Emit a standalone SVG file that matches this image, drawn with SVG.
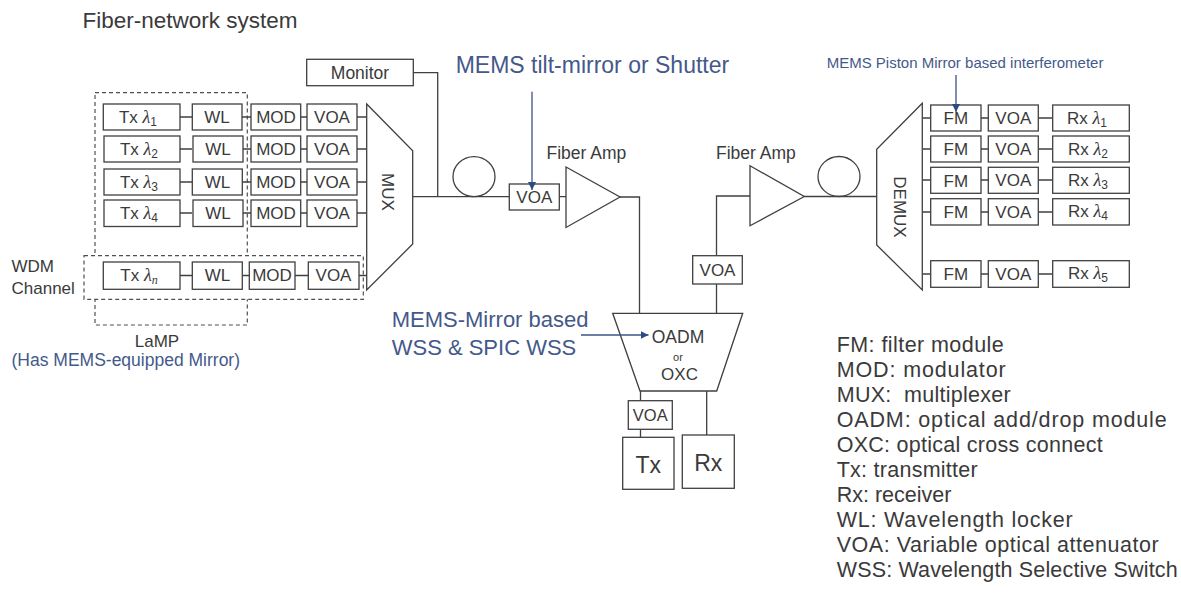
<svg xmlns="http://www.w3.org/2000/svg" width="1181" height="607" viewBox="0 0 1181 607">
<style>
.bx{fill:#fff;stroke:#404040;stroke-width:1.3}
.ln{fill:none;stroke:#404040;stroke-width:1.3}
.dash{fill:none;stroke:#505050;stroke-width:1.2;stroke-dasharray:4 3}
.t{font-family:"Liberation Sans",Arial,sans-serif;fill:#3a3a3a}
.c{text-anchor:middle}
.b17{font-size:17px}
.blue{fill:#44598a}
.arr{fill:none;stroke:#3b5488;stroke-width:1.3}
.g{font-family:"Liberation Serif",serif;font-style:italic;font-size:18px}
.sub{font-size:12px}
</style>
<defs>
<marker id="ah" markerUnits="userSpaceOnUse" markerWidth="9" markerHeight="8" refX="8" refY="4" orient="auto">
<path d="M0,0 L8,4 L0,8 z" fill="#2f4a7e"/>
</marker>
</defs>
<rect width="1181" height="607" fill="#fff"/>

<text class="t" x="82.5" y="28" font-size="22.5">Fiber-network system</text>

<g id="lamp-group">
<rect class="dash" x="95" y="92.7" width="152.3" height="232.3"/>
<text class="t c b17" x="157" y="347">LaMP</text>
<text class="t blue" x="11.5" y="366" font-size="17.5">(Has MEMS-equipped Mirror)</text>
</g>

<g id="wdm-channel">
<rect x="84" y="255.7" width="279.3" height="43.6" fill="#fff" stroke="#505050" stroke-width="1.2" stroke-dasharray="4 3"/>
<text class="t b17" x="11.5" y="272">WDM</text>
<text class="t b17" x="11.5" y="293.5">Channel</text>
</g>

<g id="connectors">
<path class="ln" d="M180,117H192M242,117H251M301,117H307M357,117H367
M180,149H192M242,149H251M301,149H307M357,149H367
M180,182H192M242,182H251M301,182H307M357,182H367
M180,213H192M242,213H251M301,213H307M357,213H367
M180,275.5H192M242,275.5H249M295,275.5H308M359,275.5H367"/>
<path class="ln" d="M413.3,72.7H437.7V196.7"/>
<path class="ln" d="M412.7,196.7H509.3M559.3,196.7H566"/>
<path class="ln" d="M620,197H639.5V313.3"/>
<path class="ln" d="M716.5,313.3V284M716.5,255.7V196H750"/>
<path class="ln" d="M804.3,196.5H876.7"/>
<path class="ln" d="M640.5,391V400.7M640.5,429.3V437.3M706.7,391V435"/>
<path class="ln" d="M922.3,118H931M981,118H988M1038,118H1053
M922.3,149H931M981,149H988M1038,149H1053
M922.3,180H931M981,180H988M1038,180H1053
M922.3,212H931M981,212H988M1038,212H1053
M922.3,274H931M981,274H988M1038,274H1053"/>
<ellipse class="ln" cx="474" cy="176.7" rx="21" ry="20"/>
<ellipse class="ln" cx="839" cy="176.5" rx="21" ry="20"/>
</g>

<g id="tx1"><rect class="bx" x="103.3" y="104" width="76.7" height="26"/><text class="t c b17" x="138" y="123">Tx <tspan class="g">λ</tspan><tspan class="sub" dy="3">1</tspan></text></g>
<g id="tx2"><rect class="bx" x="104" y="136" width="76" height="26"/><text class="t c b17" x="139" y="155">Tx <tspan class="g">λ</tspan><tspan class="sub" dy="3">2</tspan></text></g>
<g id="tx3"><rect class="bx" x="104" y="169" width="76" height="26"/><text class="t c b17" x="139" y="188">Tx <tspan class="g">λ</tspan><tspan class="sub" dy="3">3</tspan></text></g>
<g id="tx4"><rect class="bx" x="104" y="200" width="76" height="26.5"/><text class="t c b17" x="139" y="219">Tx <tspan class="g">λ</tspan><tspan class="sub" dy="3">4</tspan></text></g>
<g id="txn"><rect class="bx" x="103.3" y="262" width="76.7" height="27.3"/><text class="t c b17" x="139" y="281">Tx <tspan class="g">λ</tspan><tspan class="sub g" font-size="13" dy="3">n</tspan></text></g>

<g id="wl1"><rect class="bx" x="192.3" y="104" width="49.7" height="26"/><text class="t c b17" x="217" y="123">WL</text></g>
<g id="wl2"><rect class="bx" x="193" y="136" width="50" height="26"/><text class="t c b17" x="218" y="155">WL</text></g>
<g id="wl3"><rect class="bx" x="192.3" y="169" width="50" height="26"/><text class="t c b17" x="217.5" y="188">WL</text></g>
<g id="wl4"><rect class="bx" x="193" y="200" width="50" height="26.5"/><text class="t c b17" x="218" y="219">WL</text></g>
<g id="wln"><rect class="bx" x="192.3" y="262" width="50" height="27.3"/><text class="t c b17" x="217.5" y="281">WL</text></g>

<g id="mod1"><rect class="bx" x="251" y="104" width="49.7" height="26"/><text class="t c b17" x="276" y="123">MOD</text></g>
<g id="mod2"><rect class="bx" x="251" y="136" width="49.7" height="26"/><text class="t c b17" x="276" y="155">MOD</text></g>
<g id="mod3"><rect class="bx" x="251" y="169" width="49.7" height="26"/><text class="t c b17" x="276" y="188">MOD</text></g>
<g id="mod4"><rect class="bx" x="251" y="200" width="49.7" height="26.5"/><text class="t c b17" x="276" y="219">MOD</text></g>
<g id="modn"><rect class="bx" x="249.3" y="262" width="45.7" height="27.3"/><text class="t c b17" x="272" y="281">MOD</text></g>

<g id="voa1"><rect class="bx" x="307" y="104" width="50" height="26"/><text class="t c b17" x="332" y="123">VOA</text></g>
<g id="voa2"><rect class="bx" x="307" y="136" width="50" height="26"/><text class="t c b17" x="332" y="155">VOA</text></g>
<g id="voa3"><rect class="bx" x="307" y="169" width="50" height="26"/><text class="t c b17" x="332" y="188">VOA</text></g>
<g id="voa4"><rect class="bx" x="307" y="200" width="50" height="26.5"/><text class="t c b17" x="332" y="219">VOA</text></g>
<g id="voan"><rect class="bx" x="308.3" y="262" width="50.7" height="27.3"/><text class="t c b17" x="333.5" y="281">VOA</text></g>

<g id="mux"><polygon class="bx" points="366.7,104 412.7,150.7 412.7,244 366.7,290"/><text class="t c b17" transform="translate(382,192) rotate(90)">MUX</text></g>

<g id="monitor"><rect class="bx" x="306.7" y="59.3" width="106.6" height="26.4"/><text class="t c" font-size="17.5" x="360" y="78.5">Monitor</text></g>

<g id="voa-mid"><rect class="bx" x="509.3" y="184" width="50" height="26"/><text class="t c b17" x="534.3" y="203">VOA</text></g>

<g id="amp1"><polygon class="bx" points="566,167 620,197 566,227.5"/><text class="t" font-size="17.5" x="546.5" y="159">Fiber Amp</text></g>

<g id="amp2"><polygon class="bx" points="750,165.7 804.3,196.5 750,225.7"/><text class="t" font-size="17.5" x="716" y="158.5">Fiber Amp</text></g>

<g id="voa-up"><rect class="bx" x="692.7" y="255.7" width="49.6" height="28.3"/><text class="t c b17" x="717.5" y="276">VOA</text></g>

<g id="oadm"><polygon class="bx" points="612.7,313.3 742.7,313.3 716.7,391 640,391"/><text class="t c" font-size="17.5" x="678" y="342.7">OADM</text><text class="t c" font-size="11" x="678" y="361">or</text><text class="t c b17" x="679.5" y="380">OXC</text></g>

<g id="voa-add"><rect class="bx" x="628.3" y="400.7" width="44" height="28.6"/><text class="t c" font-size="16.5" x="650.3" y="421">VOA</text></g>
<g id="tx-add"><rect class="bx" x="622.7" y="437.3" width="51.3" height="52"/><text class="t c" font-size="23" x="648.3" y="472.5">Tx</text></g>
<g id="rx-drop"><rect class="bx" x="682.3" y="435" width="52" height="53.3"/><text class="t c" font-size="23" x="708.3" y="471">Rx</text></g>

<g id="demux"><polygon class="bx" points="922.3,103.3 876.7,149.3 876.7,245 922.3,290"/><text class="t c b17" transform="translate(893.5,207) rotate(90)">DEMUX</text></g>

<g id="fm1"><rect class="bx" x="930.7" y="105" width="50.3" height="26"/><text class="t c b17" x="955.8" y="124">FM</text></g>
<g id="fm2"><rect class="bx" x="930.7" y="136" width="50.3" height="26"/><text class="t c b17" x="955.8" y="155">FM</text></g>
<g id="fm3"><rect class="bx" x="930.7" y="167.3" width="50.3" height="26"/><text class="t c b17" x="955.8" y="186.5">FM</text></g>
<g id="fm4"><rect class="bx" x="930.7" y="198.7" width="50.3" height="26.3"/><text class="t c b17" x="955.8" y="218">FM</text></g>
<g id="fm5"><rect class="bx" x="930.7" y="260.7" width="50.3" height="26.6"/><text class="t c b17" x="955.8" y="280">FM</text></g>

<g id="rvoa1"><rect class="bx" x="988.3" y="105" width="50" height="26"/><text class="t c b17" x="1013.3" y="124">VOA</text></g>
<g id="rvoa2"><rect class="bx" x="988.3" y="136" width="50" height="26"/><text class="t c b17" x="1013.3" y="155">VOA</text></g>
<g id="rvoa3"><rect class="bx" x="988.3" y="167.3" width="50" height="26"/><text class="t c b17" x="1013.3" y="186">VOA</text></g>
<g id="rvoa4"><rect class="bx" x="988.3" y="198.7" width="50" height="26.3"/><text class="t c b17" x="1013.3" y="218">VOA</text></g>
<g id="rvoa5"><rect class="bx" x="988.3" y="260.7" width="50" height="26.6"/><text class="t c b17" x="1013.3" y="280">VOA</text></g>

<g id="rx1"><rect class="bx" x="1052.7" y="105" width="76.6" height="26"/><text class="t c b17" x="1087" y="124">Rx <tspan class="g">λ</tspan><tspan class="sub" dy="3">1</tspan></text></g>
<g id="rx2"><rect class="bx" x="1052.7" y="136" width="76.6" height="26"/><text class="t c b17" x="1088" y="155">Rx <tspan class="g">λ</tspan><tspan class="sub" dy="3">2</tspan></text></g>
<g id="rx3"><rect class="bx" x="1052.7" y="167.3" width="76.6" height="26"/><text class="t c b17" x="1088" y="186">Rx <tspan class="g">λ</tspan><tspan class="sub" dy="3">3</tspan></text></g>
<g id="rx4"><rect class="bx" x="1052.7" y="198.7" width="76.6" height="26.3"/><text class="t c b17" x="1088" y="217">Rx <tspan class="g">λ</tspan><tspan class="sub" dy="3">4</tspan></text></g>
<g id="rx5"><rect class="bx" x="1052.7" y="260.7" width="76.6" height="26.6"/><text class="t c b17" x="1088" y="279">Rx <tspan class="g">λ</tspan><tspan class="sub" dy="3">5</tspan></text></g>

<g id="annotations">
<text class="t blue" font-size="23" x="455.7" y="73.3">MEMS tilt-mirror or Shutter</text>
<text class="t blue" font-size="15" x="826.7" y="68.3">MEMS Piston Mirror based interferometer</text>
<text class="t blue" font-size="22" x="391.7" y="327">MEMS-Mirror based</text>
<text class="t blue" font-size="22" x="391.7" y="355">WSS &amp; SPIC WSS</text>
<path class="arr" d="M532,91.7V190" marker-end="url(#ah)"/>
<path class="arr" d="M956,75V112" marker-end="url(#ah)"/>
<path class="arr" d="M581,335H648.5" marker-end="url(#ah)"/>
</g>

<g id="legend" class="t" font-size="21.5">
<text x="836.7" y="351.7" textLength="167" lengthAdjust="spacing">FM: filter module</text>
<text x="836.7" y="376.7" textLength="169" lengthAdjust="spacing">MOD: modulator</text>
<text x="836.7" y="401.7" textLength="174" lengthAdjust="spacing">MUX:&#160; multiplexer</text>
<text x="836.7" y="426.7" textLength="330" lengthAdjust="spacing">OADM: optical add/drop module</text>
<text x="836.7" y="451.7" textLength="266" lengthAdjust="spacing">OXC: optical cross connect</text>
<text x="836.7" y="476.7" textLength="141" lengthAdjust="spacing">Tx: transmitter</text>
<text x="836.7" y="501.7">Rx: receiver</text>
<text x="836.7" y="526.7" textLength="236" lengthAdjust="spacing">WL: Wavelength locker</text>
<text x="836.7" y="551.7" textLength="322" lengthAdjust="spacing">VOA: Variable optical attenuator</text>
<text x="836.7" y="576.7" textLength="341" lengthAdjust="spacing">WSS: Wavelength Selective Switch</text>
</g>
</svg>
